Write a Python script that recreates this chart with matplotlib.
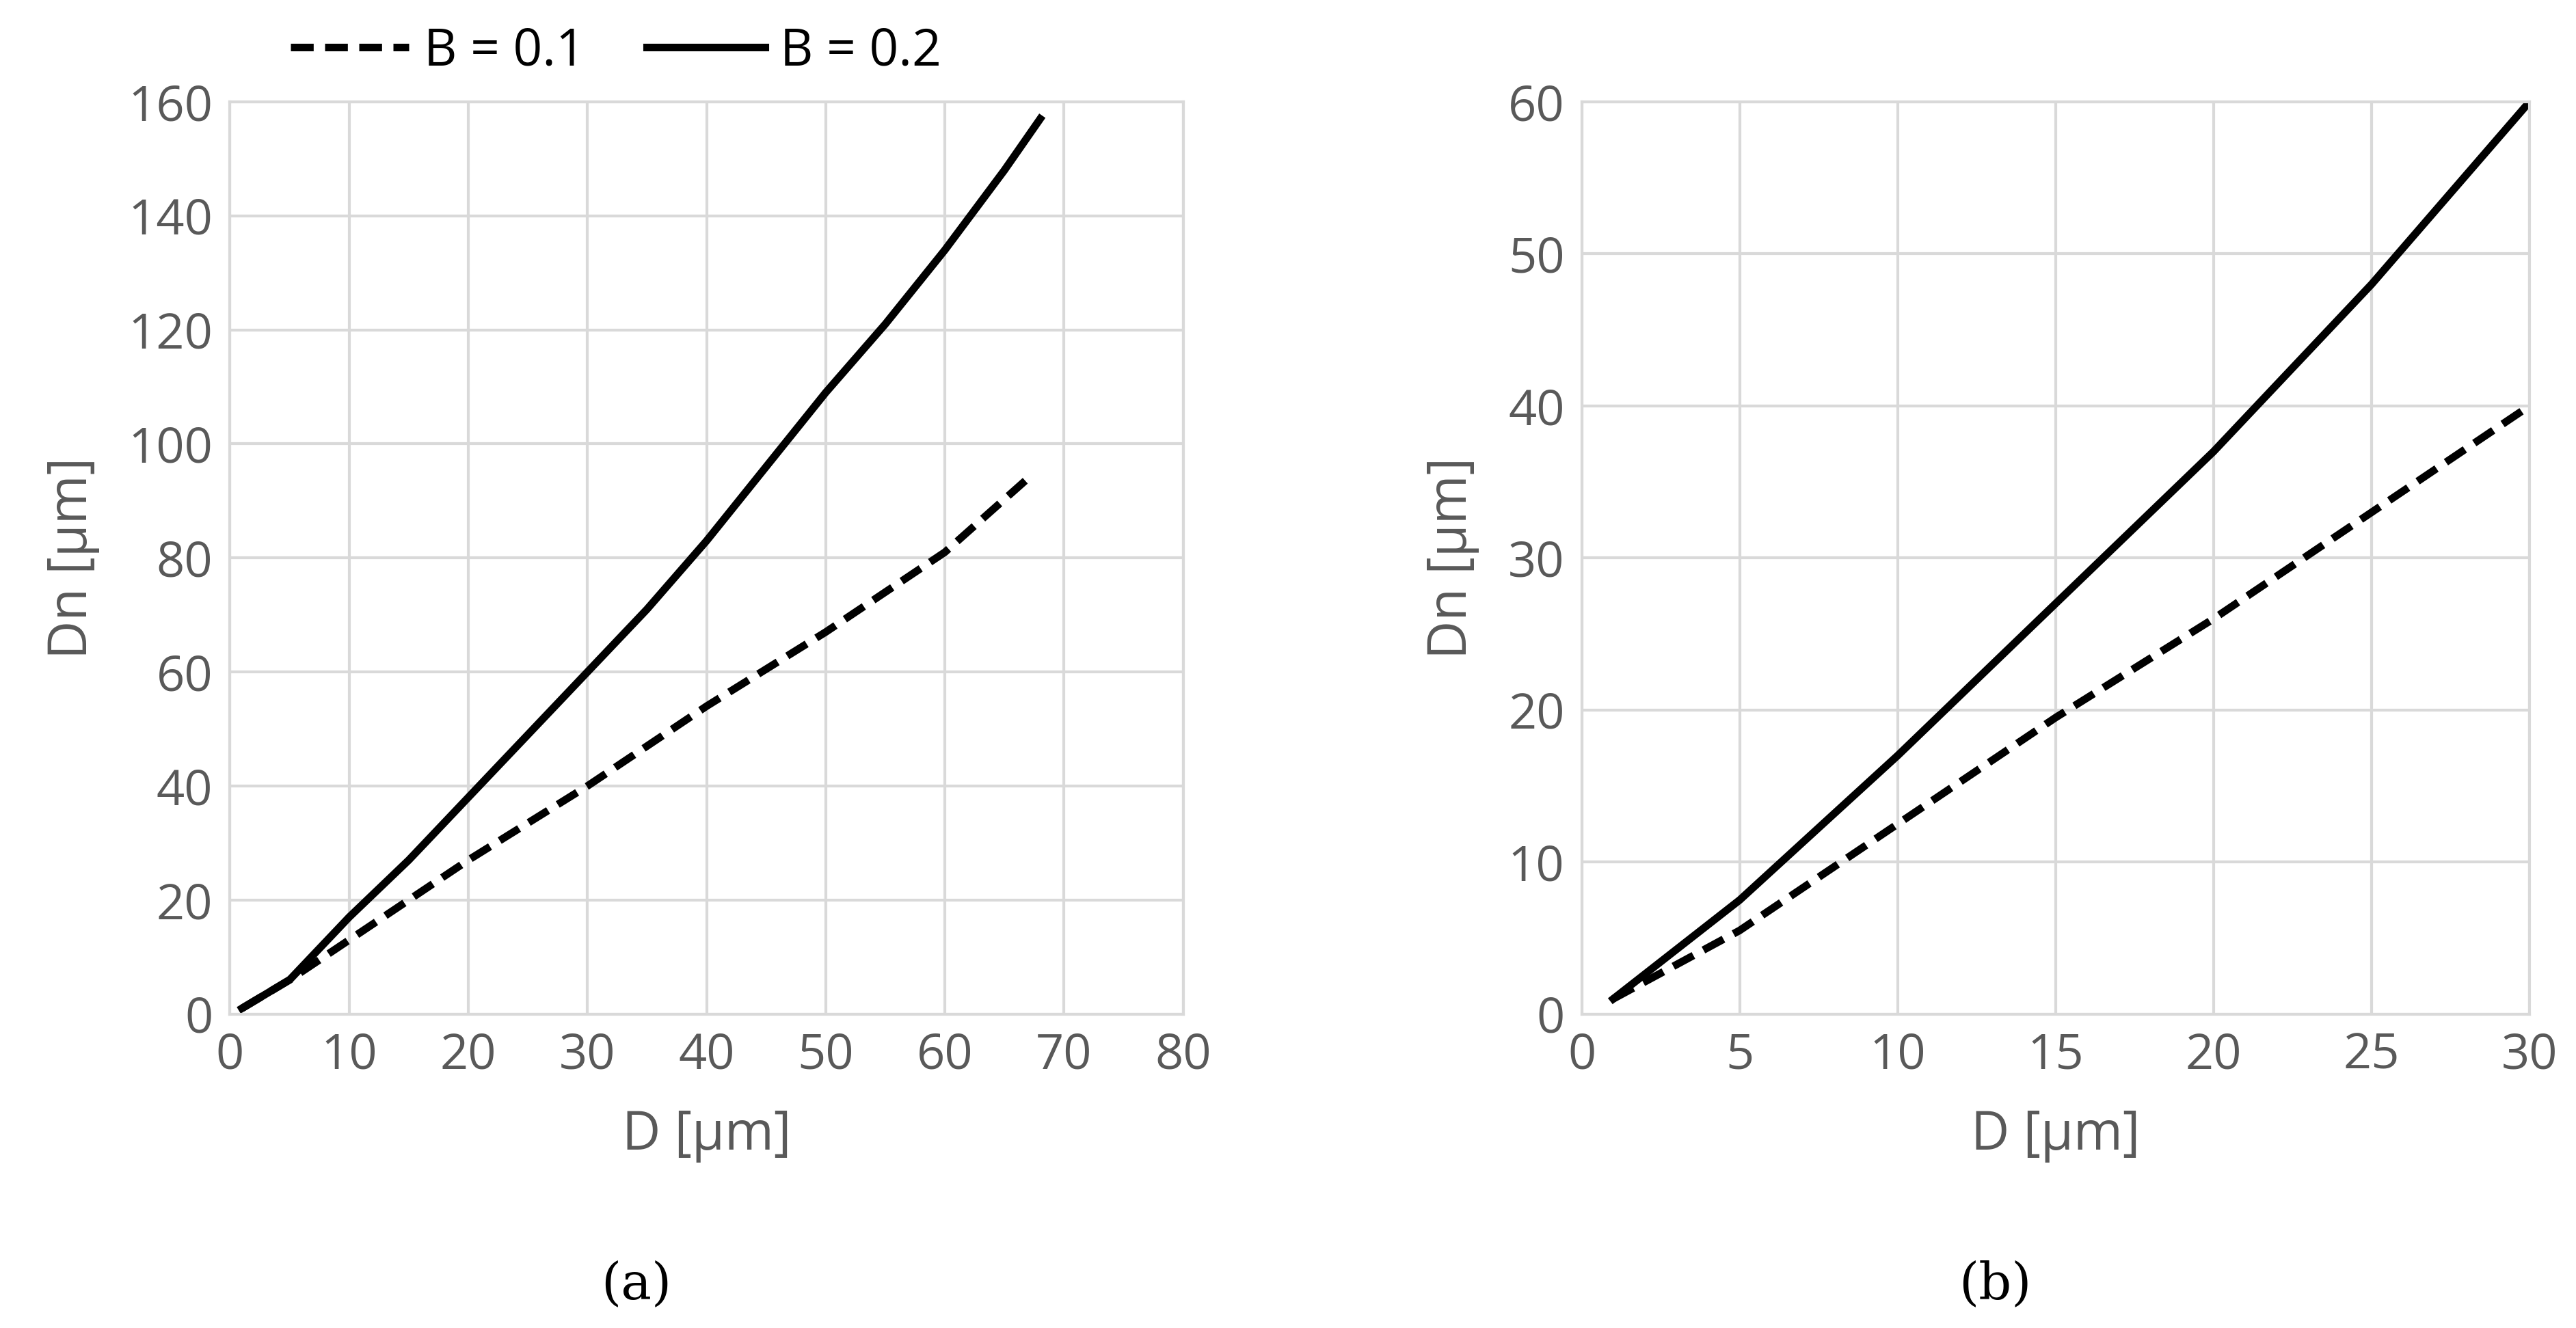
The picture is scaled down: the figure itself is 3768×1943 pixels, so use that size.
import matplotlib
matplotlib.use("Agg")
import matplotlib.pyplot as plt

a_x_solid = [1, 5, 10, 15, 20, 25, 30, 35, 40, 45, 50, 55, 60, 65, 68]
a_y_solid = [1, 6, 17, 27, 38, 49, 60, 71, 83, 96, 109, 121, 134, 148, 157]
a_x_dash = [1, 5, 10, 20, 30, 40, 50, 60, 67]
a_y_dash = [1, 6, 13, 27, 40, 54, 67, 81, 94]
b_x = [1, 5, 10, 15, 20, 25, 30]
b_y_solid = [1, 7.5, 17, 27, 37, 48, 60]
b_y_dash = [1, 5.5, 12.5, 19.5, 26, 33, 40]

plt.rcParams['font.family'] = ['Open Sans', 'DejaVu Sans']
gray = '#595959'
fig = plt.figure(figsize=(37.68, 19.43), dpi=100)
axa = fig.add_axes([0.0893, 0.2364, 0.370, 0.687])
axb = fig.add_axes([0.614, 0.2364, 0.368, 0.687])

def style(ax, xmax, xstep, ymax, ystep):
    ax.set_xlim(0, xmax); ax.set_ylim(0, ymax)
    ax.set_xticks(range(0, xmax + 1, xstep)); ax.set_yticks(range(0, ymax + 1, ystep))
    ax.grid(True, color='#d9d9d9', lw=3)
    ax.set_axisbelow(True)
    for s in ax.spines.values():
        s.set_color('#d9d9d9'); s.set_linewidth(3)
    ax.tick_params(length=0, labelsize=52, colors=gray, pad=18)
    ax.set_xlabel('D [µm]', fontsize=56, color=gray, labelpad=30)
    ax.set_ylabel('Dn [µm]', fontsize=56, color=gray, labelpad=30)

l1, = axa.plot(a_x_dash, a_y_dash, 'k--', lw=8, dashes=(3, 1.5), label='B = 0.1')
l2, = axa.plot(a_x_solid, a_y_solid, 'k-', lw=8, label='B = 0.2')
style(axa, 80, 10, 160, 20)
axb.plot(b_x, b_y_dash, 'k--', lw=8, dashes=(3, 1.5))
axb.plot(b_x, b_y_solid, 'k-', lw=8)
style(axb, 30, 5, 60, 10)

fig.legend(handles=[l1, l2], loc='upper left', bbox_to_anchor=(0.095, 1.015), ncol=2,
           frameon=False, fontsize=54, handlelength=2.3, handletextpad=0.3,
           columnspacing=1.2, labelcolor='black')
fig.text(0.247, 0.022, '(a)', fontsize=54, family='DejaVu Serif', ha='center')
fig.text(0.7745, 0.022, '(b)', fontsize=54, family='DejaVu Serif', ha='center')
fig.savefig('out.png', dpi=100)
